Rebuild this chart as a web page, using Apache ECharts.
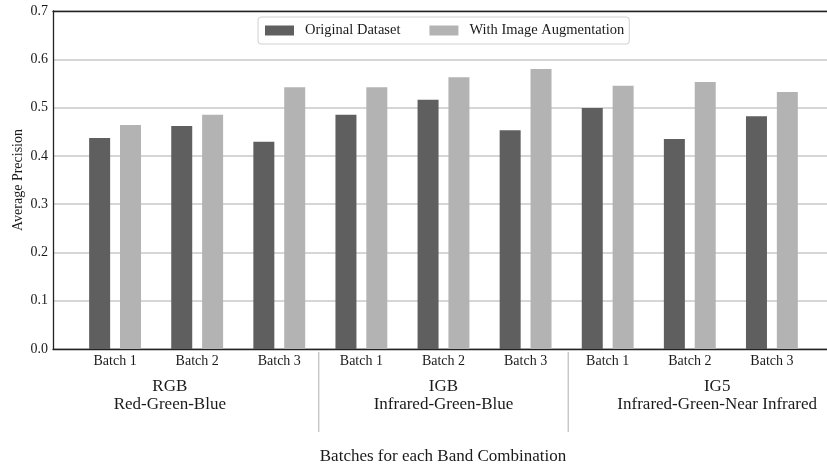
<!DOCTYPE html>
<html>
<head>
<meta charset="utf-8">
<script src="https://cdn.jsdelivr.net/npm/echarts@6/dist/echarts.min.js"></script>
<style>html,body{margin:0;padding:0;background:#fff}#c{width:827px;height:470px}</style>
</head>
<body>
<div id="c"></div>
<script>
const batches = ['Batch 1','Batch 2','Batch 3','Batch 1','Batch 2','Batch 3','Batch 1','Batch 2','Batch 3'];
const groups = ['RGB\nRed-Green-Blue','IGB\nInfrared-Green-Blue','IG5\nInfrared-Green-Near Infrared'];
const groupCenters = [2/3, 4, 22/3];
const groupSeparators = [2.48, 5.52];
const original = [0.437, 0.462, 0.429, 0.485, 0.516, 0.453, 0.499, 0.435, 0.482];
const augmented = [0.464, 0.485, 0.542, 0.542, 0.563, 0.580, 0.545, 0.553, 0.532];

const FONT = '"Liberation Serif", "DejaVu Serif", serif';
const TXT = '#1a1a1a';
const chart = echarts.init(document.getElementById('c'), null, {renderer: 'canvas'});
const idx = batches.map((_, i) => i);
const XMIN = -0.756, XMAX = 8.671;

chart.setOption({
  animation: false,
  backgroundColor: '#fff',
  grid: {left: 53, right: 0, top: 11, bottom: 121, containLabel: false, outerBoundsMode: 'none'},
  legend: {
    left: 258, top: 17,
    itemWidth: 29, itemHeight: 10, itemGap: 29,
    icon: 'rect',
    padding: [6, 5, 6, 7],
    borderColor: '#d0d0d0', borderWidth: 1, borderRadius: 3,
    backgroundColor: '#fff',
    textStyle: {fontFamily: FONT, fontSize: 14.5, color: TXT, padding: [0, 0, 0, 6]},
    data: ['Original Dataset', 'With Image Augmentation']
  },
  xAxis: [{
    type: 'value', min: XMIN, max: XMAX,
    splitLine: {show: false},
    axisTick: {show: false},
    axisLine: {show: true, onZero: false, lineStyle: {color: '#222', width: 1.3}},
    axisLabel: {
      customValues: idx, showMinLabel: true, showMaxLabel: true, hideOverlap: false,
      formatter: v => batches[Math.round(v)] || '',
      fontFamily: FONT, fontSize: 14, color: TXT, margin: 5
    }
  }, {
    type: 'value', min: XMIN, max: XMAX, position: 'top',
    splitLine: {show: false}, axisTick: {show: false}, axisLabel: {show: false},
    axisLine: {show: true, onZero: false, lineStyle: {color: '#222', width: 1.3}}
  }],
  yAxis: {
    type: 'value', min: 0, max: 0.7, interval: 0.1,
    name: 'Average Precision', nameLocation: 'middle', nameGap: 28, nameMoveOverlap: false,
    nameTextStyle: {fontFamily: FONT, fontSize: 14, color: TXT},
    axisLine: {show: true, onZero: false, lineStyle: {color: '#222', width: 1.3}},
    axisTick: {show: false},
    splitLine: {show: true, lineStyle: {color: '#c8c8c8', width: 1.5}},
    axisLabel: {formatter: v => v.toFixed(1), fontFamily: FONT, fontSize: 14, color: TXT, margin: 5}
  },
  series: [
    {name: 'Original Dataset', type: 'bar', barWidth: 21, barGap: '47%', itemStyle: {color: '#5f5f5f'},
     data: original.map((v, i) => [i, v])},
    {name: 'With Image Augmentation', type: 'bar', barWidth: 21, barGap: '47%', itemStyle: {color: '#b3b3b3'},
     data: augmented.map((v, i) => [i, v])}
  ]
});

function addGraphics() {
  const els = [];
  groupSeparators.forEach(s => {
    const x = chart.convertToPixel({xAxisIndex: 0}, s);
    els.push({type: 'line', shape: {x1: x, y1: 352, x2: x, y2: 432}, style: {stroke: '#c8c8c8', lineWidth: 1.5}, silent: true});
  });
  groups.forEach((g, i) => {
    const x = chart.convertToPixel({xAxisIndex: 0}, groupCenters[i]);
    els.push({type: 'text', x: x, y: 378, style: {text: g, fontFamily: FONT, fontSize: 17, fill: TXT, align: 'center', verticalAlign: 'top', lineHeight: 18}, silent: true});
  });
  els.push({type: 'text', x: 443, y: 448, style: {text: 'Batches for each Band Combination', fontFamily: FONT, fontSize: 17, fill: TXT, align: 'center', verticalAlign: 'top'}, silent: true});
  chart.setOption({graphic: els});
}
addGraphics();
</script>
</body>
</html>
